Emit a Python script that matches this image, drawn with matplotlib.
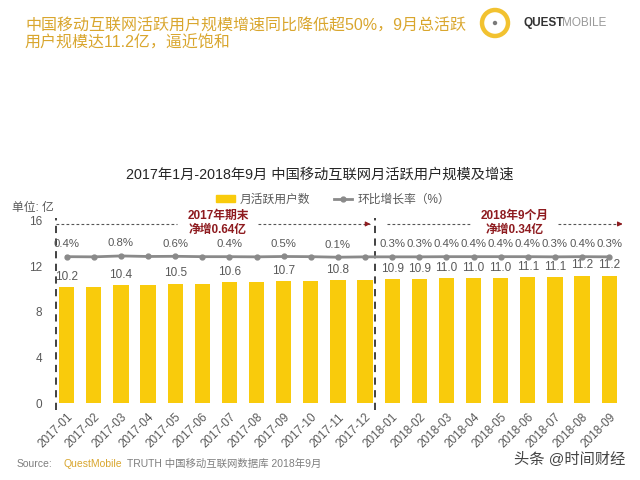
import matplotlib
matplotlib.use('Agg')
import matplotlib.pyplot as plt
from matplotlib.patches import Ellipse, Patch
from matplotlib.lines import Line2D

# Latin glyphs from an Arial-like face, CJK falls through to Noto
plt.rcParams['font.family'] = ['Liberation Sans', 'Noto Sans CJK SC', 'DejaVu Sans']

months = ['2017-01', '2017-02', '2017-03', '2017-04', '2017-05', '2017-06',
          '2017-07', '2017-08', '2017-09', '2017-10', '2017-11', '2017-12',
          '2018-01', '2018-02', '2018-03', '2018-04', '2018-05', '2018-06',
          '2018-07', '2018-08', '2018-09']
mau = [10.2, 10.2, 10.4, 10.4, 10.5, 10.5, 10.6, 10.6, 10.7, 10.7, 10.8, 10.8,
       10.9, 10.9, 11.0, 11.0, 11.0, 11.1, 11.1, 11.2, 11.2]
growth = [0.4, 0.3, 0.8, 0.5, 0.6, 0.4, 0.4, 0.3, 0.5, 0.4, 0.1, 0.3,
          0.3, 0.3, 0.4, 0.4, 0.4, 0.4, 0.3, 0.4, 0.3]
# which points carry a label in the original (every other month in 2017)
show_label = [i % 2 == 0 or i >= 12 for i in range(len(months))]

gold = '#F9CB0C'
grey = '#8a8a8a'
text_grey = '#595959'
dark_red = '#8e1b1f'
title_gold = '#D9A62E'

fig = plt.figure(figsize=(6.4, 4.8), dpi=100)
ax = fig.add_axes([0.083, 0.1604, 0.89, 0.3792])

x = list(range(len(months)))
ax.bar(x, mau, width=0.56, color=gold, zorder=2)
for i in x:
    if show_label[i]:
        ax.annotate(f'{mau[i]:.1f}', (i, mau[i]), xytext=(0, 3), textcoords='offset points',
                    ha='center', va='bottom', fontsize=8.5, color=text_grey)

ax.set_xlim(-0.5, 20.5)
ax.set_ylim(0, 16)
ax.set_yticks([0, 4, 8, 12, 16])
ax.set_xticks(x)
ax.set_xticklabels(months, rotation=45, ha='right', rotation_mode='anchor', fontsize=7.5, color=text_grey)
ax.tick_params(axis='both', length=0, labelsize=8.5, colors=text_grey, pad=8)
ax.tick_params(axis='x', pad=6)
for s in ax.spines.values():
    s.set_visible(False)

# growth line on a secondary scale (flat in the original)
ax2 = ax.twinx()
ax2.plot(x, growth, color=grey, lw=2, marker='o', ms=3.5, zorder=3)
ax2.set_ylim(-80, 20)
ax2.axis('off')
for i in x:
    if show_label[i]:
        ax2.annotate(f'{growth[i]:.1f}%', (i, growth[i]), xytext=(0, 9), textcoords='offset points',
                     ha='center', va='center', fontsize=8.2, color=text_grey)

# vertical dashed separators
for xv in [-0.39, 11.37]:
    ax.plot([xv, xv], [-0.6, 16.3], color='#333333', lw=1.3, ls=(0, (4, 3)), clip_on=False, zorder=4)

# horizontal dashed arrows with annotations
dy = 15.74
segs = [(-0.39, 4.07), (7.06, 11.2), (11.81, 14.87), (18.1, 20.5)]
for a, b in segs:
    ax.plot([a, b], [dy, dy], color='#555555', lw=0.8, ls=(0, (2.5, 2)), clip_on=False)
for end in [11.3, 20.6]:
    ax.annotate('', xy=(end, dy), xytext=(end - 0.3, dy),
                arrowprops=dict(arrowstyle='-|>', color=dark_red, lw=0.8, mutation_scale=7),
                annotation_clip=False)
ax.text(5.58, 15.85, '2017年期末\n净增0.64亿', ha='center', va='center', fontsize=8.5,
        fontweight='bold', color=dark_red, linespacing=1.2)
ax.text(16.53, 15.85, '2018年9个月\n净增0.34亿', ha='center', va='center', fontsize=8.5,
        fontweight='bold', color=dark_red, linespacing=1.2)

fig.text(0.052, 1 - 208 / 480, '单位: 亿', ha='center', va='center', fontsize=8.5, color=text_grey)

# legend
handles = [Patch(color=gold, label='月活跃用户数'),
           Line2D([0], [0], color=grey, lw=2, marker='o', ms=3.5, label='环比增长率（%）')]
fig.legend(handles=handles, loc='center', bbox_to_anchor=(0.52, 1 - 200 / 480), ncol=2,
           frameon=False, fontsize=8.5, labelcolor=text_grey, handlelength=1.6,
           handleheight=0.5, columnspacing=2.0, handletextpad=0.4)

# chart title
fig.text(0.5, 1 - 175 / 480, '2017年1月-2018年9月 中国移动互联网月活跃用户规模及增速',
         ha='center', va='center', fontsize=10.3, color='#262626')

# page header
fig.text(0.039, 1 - 35 / 480, '中国移动互联网活跃用户规模增速同比降低超50%，9月总活跃\n用户规模达11.2亿，逼近饱和',
         ha='left', va='center', fontsize=11.5, color=title_gold, linespacing=1.15)

# logo
fig.add_artist(Ellipse((495 / 640, 1 - 23 / 480), 26 / 640, 26 / 480, transform=fig.transFigure,
                       fill=False, ec='#F2C230', lw=3.2))
fig.add_artist(Ellipse((495 / 640, 1 - 23 / 480), 3 / 640, 3 / 480, transform=fig.transFigure,
                       color='#7a7a7a'))
fig.text(523 / 640, 1 - 23 / 480, 'QUEST', ha='left', va='center', fontsize=8.5,
         fontweight='bold', color='#333333')
fig.text(562 / 640, 1 - 23 / 480, 'MOBILE', ha='left', va='center', fontsize=8.5, color='#9a9a9a')

# source and watermark
fig.text(17 / 640, 1 - 464 / 480, 'Source:', ha='left', va='center', fontsize=7.5, color='#7f7f7f')
fig.text(64 / 640, 1 - 464 / 480, 'QuestMobile', ha='left', va='center', fontsize=7.5, color=title_gold)
fig.text(127 / 640, 1 - 464 / 480, 'TRUTH 中国移动互联网数据库 2018年9月', ha='left', va='center',
         fontsize=7.5, color='#7f7f7f')
fig.text(625 / 640, 1 - 459 / 480, '头条 @时间财经', ha='right', va='center', fontsize=11, color='#444444')

fig.savefig('out.png', dpi=100)
